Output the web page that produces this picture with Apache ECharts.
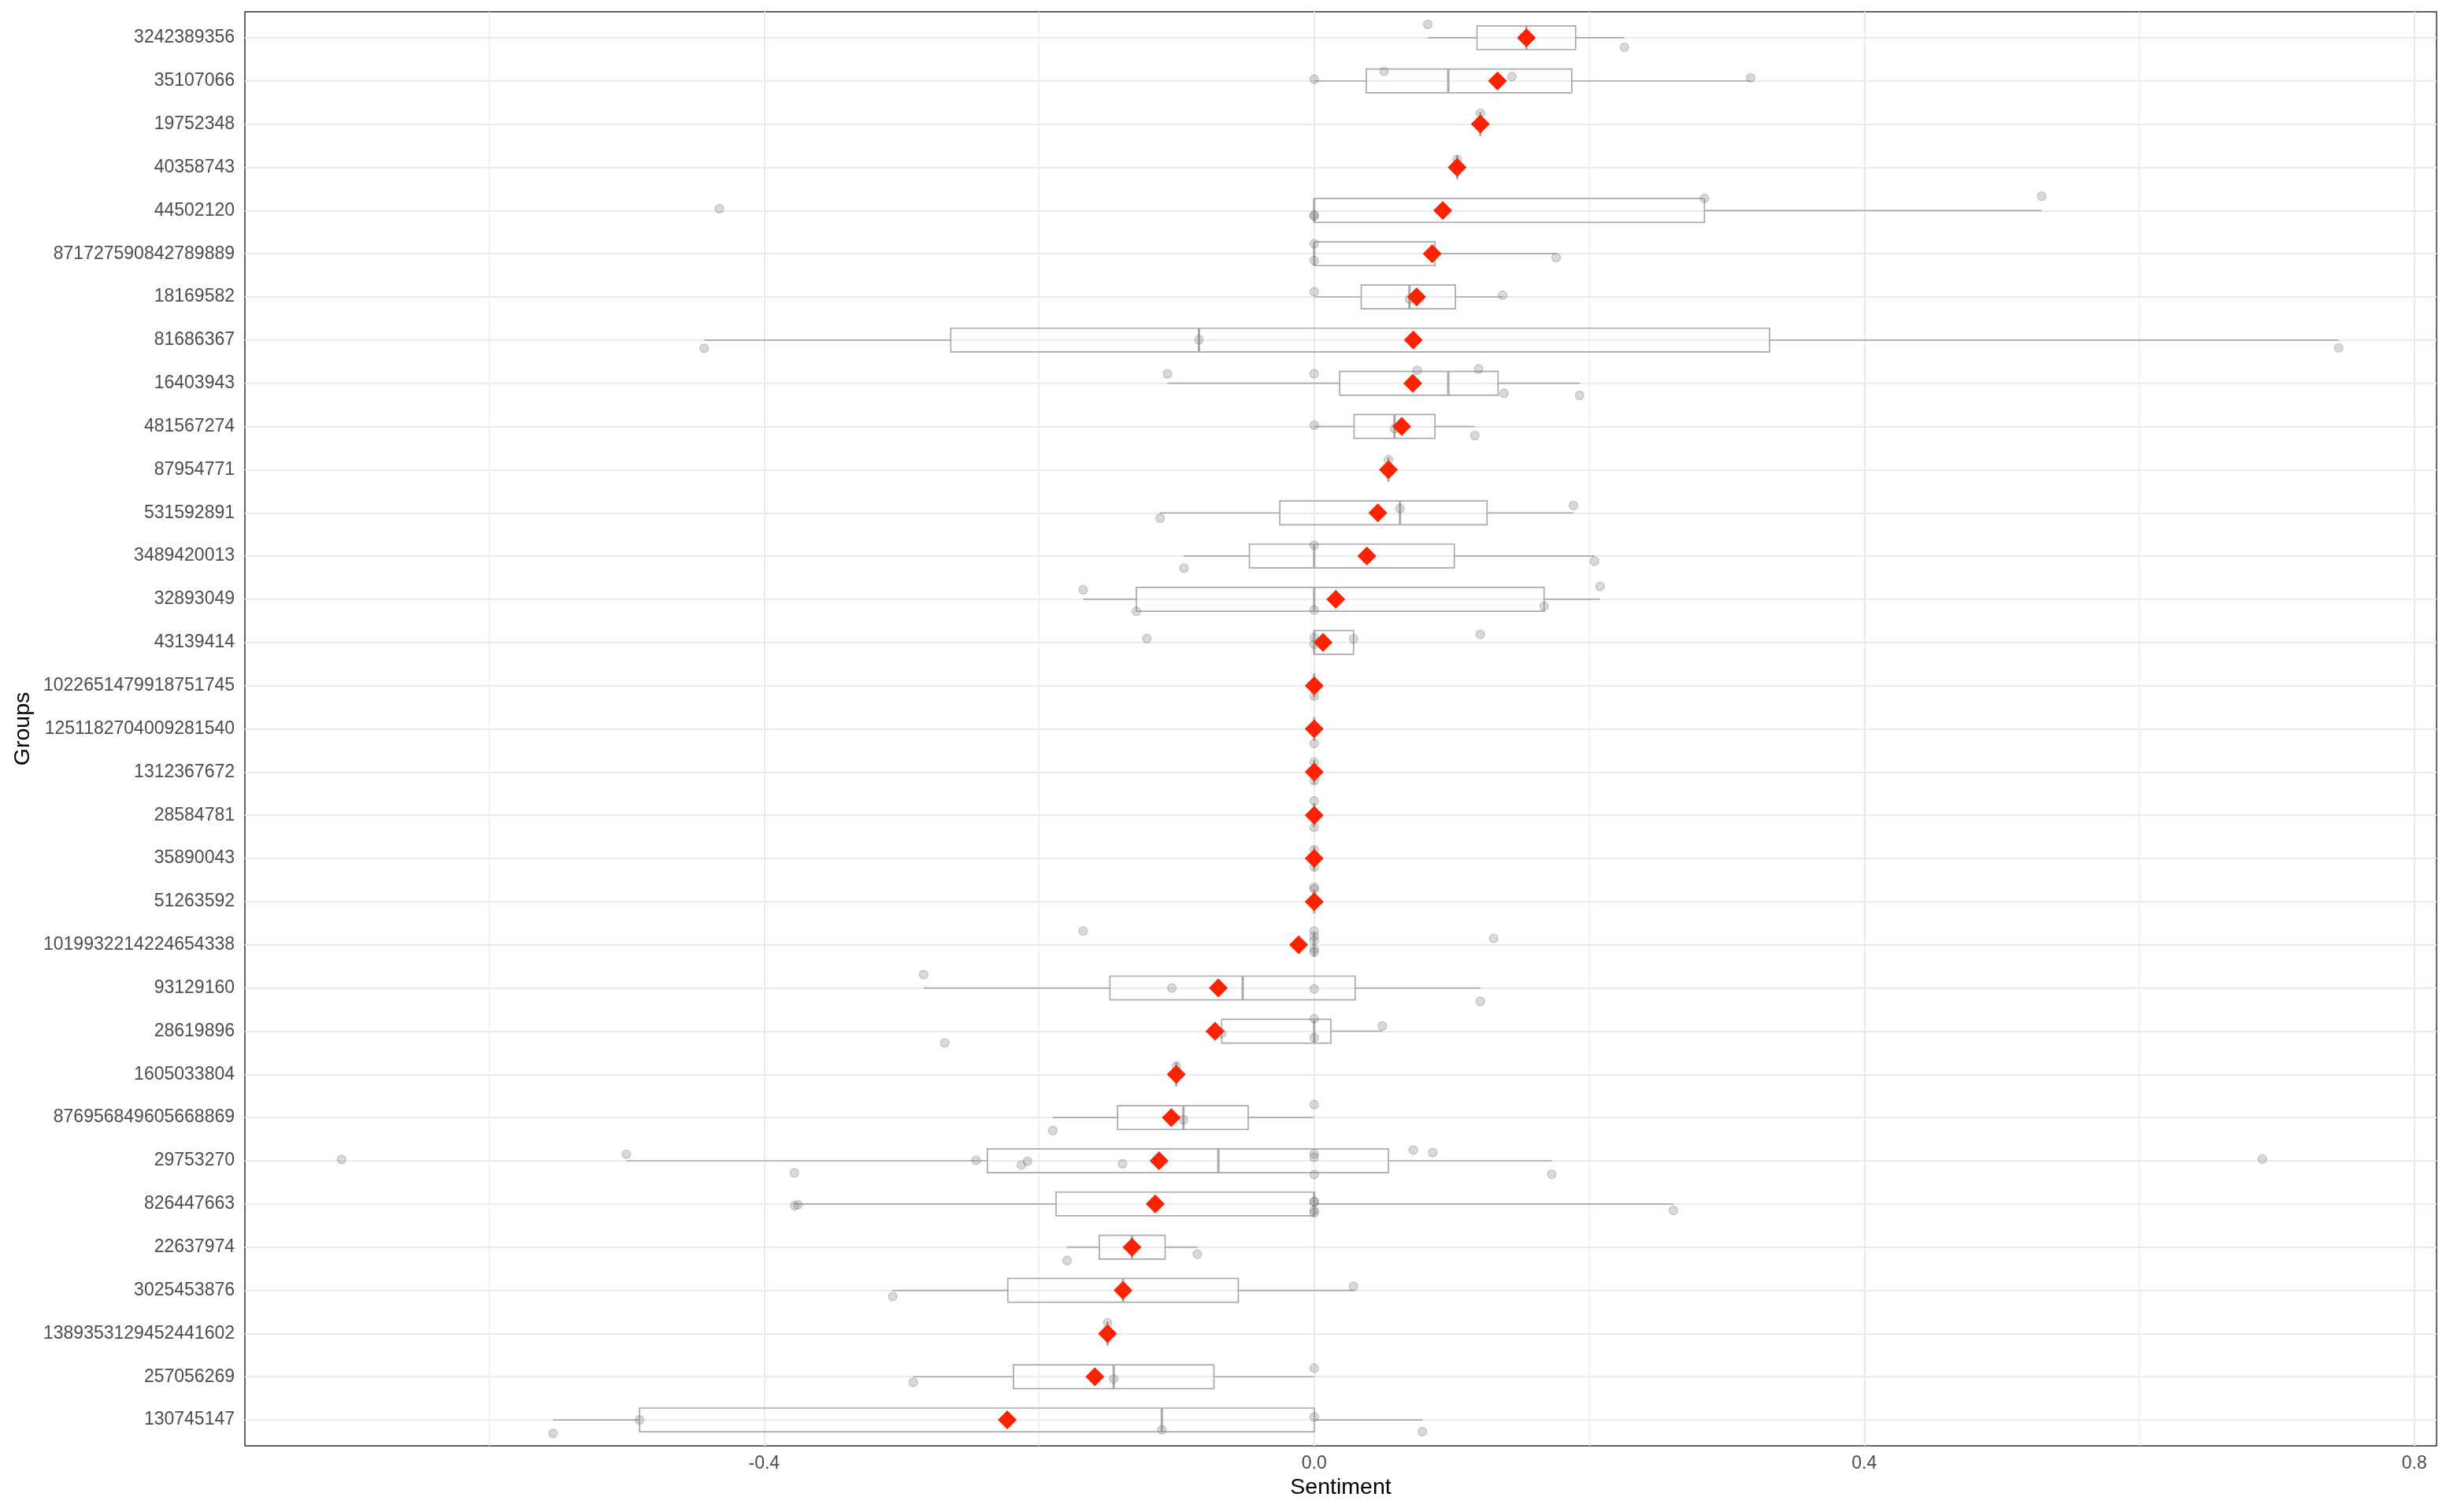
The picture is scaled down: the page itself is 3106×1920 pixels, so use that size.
<!DOCTYPE html>
<html>
	<head>
		<meta charset="utf-8">
		<title>sentiment boxplot</title>
		<script src="https://cdn.jsdelivr.net/npm/echarts@6/dist/echarts.min.js"></script>
		<style>
			html,body{margin:0;padding:0;background:#fff;}
			#x{width:3106px;height:1920px;}
		</style>
	</head>
	<body>
		<div id="x"></div>
	</body>

	<script type="text/javascript">
		// groups, top to bottom
		var groups=['3242389356','35107066','19752348','40358743','44502120','871727590842789889','18169582',
			'81686367','16403943','481567274','87954771','531592891','3489420013','32893049','43139414',
			'1022651479918751745','1251182704009281540','1312367672','28584781','35890043','51263592',
			'1019932214224654338','93129160','28619896','1605033804','876956849605668869','29753270',
			'826447663','22637974','3025453876','1389353129452441602','257056269','130745147'];

		// box stats: lower whisker, q1, median, q3, upper whisker
		var whiskerLow=[0.0826,0,0.1208,0.104,0,0,0,-0.4436,-0.1067,0,0.054,-0.112,-0.0947,-0.168,0,
			0,0,0,0,0,0,0,-0.284,-0.0673,-0.1003,-0.1901,-0.5003,-0.378,-0.1797,-0.3065,-0.1503,-0.2916,-0.5535];
		var q1=[0.1184,0.0379,0.1208,0.104,0,0,0.0342,-0.2643,0.0185,0.029,0.054,-0.025,-0.0471,-0.1293,0,
			0,0,0,0,0,0,0,-0.1486,-0.0673,-0.1003,-0.143,-0.2377,-0.1877,-0.1563,-0.2228,-0.1503,-0.2187,-0.4906];
		var median=[0.1543,0.0975,0.1208,0.104,0,0,0.0693,-0.0838,0.0975,0.0584,0.054,0.0624,0,0,0,
			0,0,0,0,0,0,0,-0.052,0,-0.1003,-0.0951,-0.0697,0,-0.1325,-0.139,-0.1503,-0.1458,-0.1108];
		var q3=[0.1901,0.1873,0.1208,0.104,0.2838,0.0878,0.1027,0.3312,0.1337,0.0878,0.054,0.1257,0.1019,0.1672,0.0286,
			0,0,0,0,0,0,0,0.0298,0.0121,-0.1003,-0.048,0.054,0,-0.1084,-0.0552,-0.1503,-0.0729,0];
		var whiskerHigh=[0.2256,0.3174,0.1208,0.104,0.529,0.176,0.137,0.745,0.193,0.1168,0.054,0.1885,0.2038,0.2079,0.0286,
			0,0,0,0,0,0,0,0.1208,0.0495,-0.1003,0,0.1728,0.2612,-0.085,0.0286,-0.1503,0,0.0786];

		// group means (red diamonds)
		var means=[0.1543,0.1333,0.1208,0.104,0.0935,0.0858,0.0745,0.0721,0.0717,0.0636,0.054,0.0463,0.0383,0.0157,0.0064,
			0,0,0,0,0,0,-0.0113,-0.0697,-0.0721,-0.1003,-0.1039,-0.1128,-0.1156,-0.1325,-0.139,-0.1503,-0.1595,-0.2232];

		// jittered raw points: [group index, sentiment, vertical jitter]
		var points=[
			[0,0.0826,-0.31],[0,0.154,0.05],[0,0.2256,0.22],
			[1,0,-0.04],[1,0.0508,-0.22],[1,0.1438,-0.10],[1,0.3174,-0.07],
			[2,0.1208,-0.25],
			[3,0.104,-0.18],
			[4,-0.4326,-0.04],[4,0,0.13],[4,0,0.10],[4,0.2838,-0.28],[4,0.529,-0.33],
			[5,0,-0.23],[5,0,0.16],[5,0.176,0.09],
			[6,0,-0.12],[6,0.0693,0.05],[6,0.137,-0.04],
			[7,-0.4436,0.19],[7,-0.0838,-0.01],[7,0.745,0.18],
			[8,-0.1067,-0.22],[8,0,-0.22],[8,0.0749,-0.3],[8,0.1196,-0.33],[8,0.138,0.23],[8,0.193,0.28],
			[9,0,-0.03],[9,0.0584,0.05],[9,0.1168,0.21],
			[10,0.054,-0.23],
			[11,-0.112,0.12],[11,0.0624,-0.10],[11,0.1885,-0.17],
			[12,-0.0947,0.28],[12,0,-0.25],[12,0.2038,0.12],
			[13,-0.168,-0.22],[13,-0.1293,0.28],[13,0,0.25],[13,0.1672,0.16],[13,0.2079,-0.30],
			[14,-0.1217,-0.09],[14,0,-0.11],[14,0,0.04],[14,0.0286,-0.08],[14,0.1208,-0.19],
			[15,0,0.24],
			[16,0,0.34],
			[17,0,-0.23],[17,0,0.2],
			[18,0,-0.33],[18,0,0.28],
			[19,0,-0.2],[19,0,0.2],
			[20,0,-0.33],[20,0,-0.29],
			[21,-0.168,-0.32],[21,0,-0.32],[21,0,-0.2],[21,0,-0.1],[21,0,0.1],[21,0,0.17],[21,0.1305,-0.15],
			[22,-0.284,-0.31],[22,-0.1035,0],[22,0,0.02],[22,0.1208,0.31],
			[23,-0.2687,0.27],[23,-0.0673,0.05],[23,0,-0.29],[23,0,0.15],[23,0.0495,-0.12],
			[24,-0.1003,-0.19],
			[25,-0.1901,0.3],[25,-0.0951,0.05],[25,0,-0.3],
			[26,-0.7073,-0.03],[26,-0.5003,-0.15],[26,-0.378,0.28],[26,-0.2459,-0.01],[26,-0.2129,0.1],
			[26,-0.2085,0.01],[26,-0.1394,0.07],[26,0,-0.16],[26,0,-0.08],[26,0,0.32],[26,0.0721,-0.25],
			[26,0.0862,-0.19],[26,0.1728,0.31],[26,0.6895,-0.04],
			[27,-0.3778,0.04],[27,-0.3754,0.02],[27,0,-0.06],[27,0,-0.04],[27,0,0.15],[27,0,0.2],[27,0.2612,0.15],
			[28,-0.1797,0.31],[28,-0.1325,0.05],[28,-0.085,0.16],
			[29,-0.3065,0.14],[29,-0.139,0.05],[29,0.0286,-0.09],
			[30,-0.1503,-0.25],
			[31,-0.2916,0.13],[31,-0.1458,0.05],[31,0,-0.2],
			[32,-0.5535,0.31],[32,-0.4906,0],[32,-0.1108,0.23],[32,0,-0.07],[32,0.0786,0.27]
		];

		var xTicks=[-0.4,0,0.4,0.8];
		var xMinor=[-0.6,-0.2,0.2,0.6];

		// build
		var boxData=[],meanData=[],pointData=[],rows=[];
		for (var i = 0; i < groups.length; i++) {
			boxData.push([i,whiskerLow[i],q1[i],median[i],q3[i],whiskerHigh[i]]);
			meanData.push([means[i],i]);
			rows.push(i);
		}
		for (var j = 0; j < points.length; j++) {
			pointData.push([points[j][1],points[j][0]+points[j][2]]);
		}

		var gridLines=[];
		rows.forEach(function(r){ gridLines.push({yAxis:r,lineStyle:{width:2}}) });
		xTicks.forEach(function(v){ gridLines.push({xAxis:v,lineStyle:{width:2}}) });
		xMinor.forEach(function(v){ gridLines.push({xAxis:v,lineStyle:{width:1.2}}) });

		var boxColor='#aaaaaa';
		function renderBox(params,api){
			var y=api.value(0);
			var band=api.size([0,1])[1];
			var h=band*0.55/2;
			var pLo=api.coord([api.value(1),y]);
			var pQ1=api.coord([api.value(2),y]);
			var pMed=api.coord([api.value(3),y]);
			var pQ3=api.coord([api.value(4),y]);
			var pHi=api.coord([api.value(5),y]);
			var st={stroke:boxColor,lineWidth:1.7,fill:null};
			return {
				type:'group',
				children:[
					{type:'line',shape:{x1:pLo[0],y1:pLo[1],x2:pQ1[0],y2:pQ1[1]},style:st},
					{type:'line',shape:{x1:pQ3[0],y1:pQ3[1],x2:pHi[0],y2:pHi[1]},style:st},
					{type:'rect',shape:{x:pQ1[0],y:pQ1[1]-h,width:pQ3[0]-pQ1[0],height:2*h},style:{stroke:boxColor,lineWidth:1.7,fill:'rgba(255,255,255,0)'}},
					{type:'line',shape:{x1:pMed[0],y1:pMed[1]-h,x2:pMed[0],y2:pMed[1]+h},style:{stroke:boxColor,lineWidth:3}}
				]
			};
		}

		var labelFont="'Liberation Sans', Arial, sans-serif";
		option = {
			backgroundColor:'#fff',
			animation:false,
			grid:{
				left:311,right:12,top:15,bottom:84,
				show:true,borderColor:'#333',borderWidth:1.5,backgroundColor:'#fff'
			},
			xAxis:{
				type:'value',
				min:-0.7776,max:0.8162,
				name:'Sentiment',nameLocation:'middle',nameGap:38,
				nameTextStyle:{color:'#000',fontSize:28.5,fontFamily:labelFont},
				axisLine:{show:false},
				axisTick:{show:true,length:7,lineStyle:{color:'#333',width:2},customValues:xTicks},
				axisLabel:{color:'#4d4d4d',fontSize:23,fontFamily:labelFont,margin:11,customValues:xTicks,
					formatter:function(v){return v.toFixed(1)}},
				splitLine:{show:false}
			},
			yAxis:{
				type:'value',
				min:-0.6,max:32.6,inverse:true,
				name:'Groups',nameLocation:'middle',nameGap:266,
				nameTextStyle:{color:'#000',fontSize:28.5,fontFamily:labelFont},
				axisLine:{show:false},
				axisTick:{show:true,length:7,lineStyle:{color:'#333',width:2},customValues:rows},
				axisLabel:{color:'#4d4d4d',fontSize:23,fontFamily:labelFont,margin:13,customValues:rows,
					formatter:function(v){return groups[Math.round(v)]}},
				splitLine:{show:false}
			},
			series:[{
				// panel grid lines, kept under everything
				type:'scatter',
				z:1,
				silent:true,
				symbolSize:0,
				data:[[0,0]],
				markLine:{
					z:1,
					silent:true,
					animation:false,
					symbol:['none','none'],
					label:{show:false},
					emphasis:{disabled:true},
					lineStyle:{color:'#ebebeb',type:'solid'},
					data:gridLines
				}
			},{
				type:'custom',
				z:2,
				renderItem:renderBox,
				encode:{x:[1,2,3,4,5],y:0},
				data:boxData
			},{
				type:'scatter',
				z:3,
				symbol:'circle',
				symbolSize:11,
				itemStyle:{color:'rgba(128,128,128,0.3)',borderColor:'rgba(70,70,70,0.25)',borderWidth:1.2,opacity:1},
				data:pointData
			},{
				type:'scatter',
				z:4,
				symbol:'diamond',
				symbolSize:24,
				itemStyle:{color:'#ff2200',opacity:1},
				data:meanData
			}]
		};
		var x5=chart(option,"x");

		function chart(option, id) {
			var mychart = echarts.init(document.getElementById(id));
			mychart.setOption(option);
			return mychart;
		}
	</script>
</html>
